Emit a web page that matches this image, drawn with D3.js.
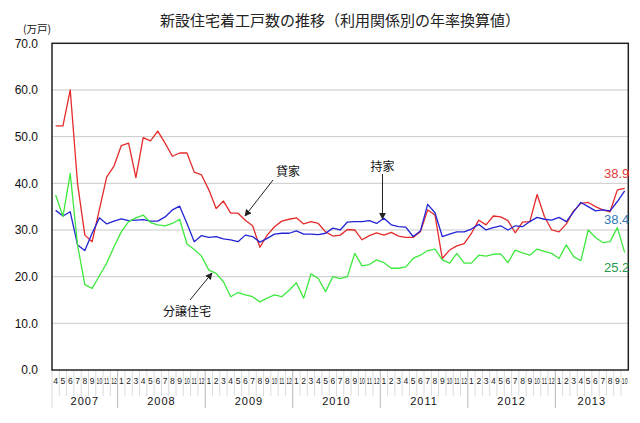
<!DOCTYPE html>
<html>
<head>
<meta charset="utf-8">
<script src="https://cdn.jsdelivr.net/npm/d3@7"></script>
<style>
  body { margin: 0; background: #fff; }
  svg { display: block; }
  text { font-family: "Liberation Sans", Arial, sans-serif; }
  .jp { font-family: "Noto Sans CJK JP", "Noto Sans", sans-serif; }
</style>
</head>
<body>
<svg id="chart" width="640" height="423"></svg>
<script>
// monthly, Apr 2007 .. Oct 2013
const years = [2007, 2008, 2009, 2010, 2011, 2012, 2013]
const firstMonth = 4
const lastMonth = 10

// 貸家 (rental)
const rental = [
  52.3, 52.3, 60.0, 40.0, 28.9, 27.5, 34.4, 41.4, 43.7,
  48.1, 48.6, 41.2, 49.8, 49.1, 51.2, 48.6, 45.8, 46.5, 46.5, 42.4, 41.8,
  38.6, 34.6, 36.2, 33.6, 33.6, 32.1, 30.9, 26.3, 28.9, 30.7, 31.9, 32.3,
  32.6, 31.3, 31.8, 31.4, 29.6, 28.7, 28.9, 30.1, 30.0, 27.9, 28.8, 29.4,
  28.9, 29.5, 28.7, 28.4, 28.4, 29.6, 34.3, 33.2, 23.9, 25.7, 26.6, 27.1,
  29.3, 32.1, 31.1, 33.0, 32.8, 32.0, 29.4, 31.7, 31.8, 37.6, 32.9, 30.0,
  29.6, 31.3, 34.1, 35.7, 35.9, 35.0, 34.3, 33.9, 38.6, 38.9
]
// 持家 (owner-occupied)
const owner = [
  34.2, 33.0, 33.9, 26.8, 25.6, 29.3, 32.6, 31.3, 31.9,
  32.4, 32.0, 32.1, 32.2, 31.9, 31.9, 32.8, 34.3, 35.1, 31.4, 27.5, 28.8,
  28.4, 28.6, 28.1, 27.9, 27.5, 28.9, 28.6, 27.4, 28.2, 29.1, 29.3, 29.3,
  29.8, 29.1, 29.1, 29.0, 29.3, 30.4, 30.0, 31.7, 31.8, 31.8, 32.0, 31.4,
  32.5, 31.1, 30.7, 30.6, 28.6, 29.8, 35.5, 33.7, 28.6, 29.1, 29.6, 29.6,
  30.2, 31.2, 30.0, 30.5, 30.9, 30.0, 30.9, 30.7, 31.8, 32.7, 32.3, 32.1,
  32.7, 31.8, 33.9, 35.9, 35.0, 34.1, 34.3, 34.1, 36.1, 38.4
]
// 分譲住宅 (built for sale)
const forSale = [
  37.5, 32.9, 42.1, 26.8, 18.3, 17.5, 20.2, 22.9, 26.4,
  29.6, 31.8, 32.6, 33.2, 31.6, 31.1, 30.9, 31.4, 32.3, 27.0, 25.8, 24.4,
  21.4, 20.7, 18.9, 15.7, 16.6, 16.1, 15.7, 14.6, 15.4, 16.1, 15.7, 17.1,
  18.7, 15.4, 20.6, 19.6, 16.8, 20.0, 19.6, 20.0, 25.0, 22.3, 22.6, 23.6,
  23.0, 21.8, 21.8, 22.1, 23.9, 24.6, 25.6, 25.9, 23.6, 22.9, 25.0, 22.9,
  22.9, 24.6, 24.4, 24.8, 24.9, 23.0, 25.7, 25.1, 24.6, 25.9, 25.4, 25.0,
  23.9, 26.8, 24.3, 23.4, 30.0, 28.4, 27.3, 27.5, 30.5, 25.2
]
const yTicks = [0, 10, 20, 30, 40, 50, 60, 70]

const categories = []
years.forEach((yr, k) => {
  const m0 = k === 0 ? firstMonth : 1
  const m1 = k === years.length - 1 ? lastMonth : 12
  for (let m = m0; m <= m1; m++) categories.push({ key: yr + '-' + m, year: yr, month: m })
})

// dy: baseline offset of the end-value label from the last point
const series = [
  { name: '貸家', values: rental, color: '#e52b2b', label: '#e23a3a', dy: -10.5 },
  { name: '持家', values: owner, color: '#2424d4', label: '#2e78b8', dy: 33 },
  { name: '分譲住宅', values: forSale, color: '#3fe83f', label: '#1f9a4f', dy: 19.5 }
]

const plotLeft = 52
const plotRight = 628.3
const plotTop = 43.3
const plotBottom = 370

const svg = d3.select('#chart')

const x = d3.scaleBand().domain(categories.map(d => d.key)).range([plotLeft, plotRight])
const cx = key => x(key) + x.bandwidth() / 2
const y = d3.scaleLinear().domain([0, 70]).range([plotBottom, plotTop])

// title
svg.append('text').attr('class', 'jp')
  .attr('x', 340).attr('y', 26)
  .attr('text-anchor', 'middle')
  .style('font-size', '15px')
  .style('fill', '#222')
  .text('新設住宅着工戸数の推移（利用関係別の年率換算値）')

svg.append('text').attr('class', 'jp')
  .attr('x', 23).attr('y', 33)
  .style('font-size', '10.5px')
  .style('fill', '#111')
  .text('(万戸)')

// grid
svg.append('g').selectAll('line')
  .data(yTicks.filter(t => t > 0 && t < 70))
  .enter().append('line')
  .attr('x1', plotLeft).attr('x2', plotRight)
  .attr('y1', d => y(d)).attr('y2', d => y(d))
  .attr('stroke', '#c9c9c9')
  .attr('stroke-width', 1)

// y axis labels
const yAxis = svg.append('g')
  .attr('transform', 'translate(' + plotLeft + ',0)')
  .call(d3.axisLeft(y).tickValues(yTicks).tickFormat(d3.format('.1f')).tickSize(0).tickPadding(14))
yAxis.select('.domain').remove()
yAxis.selectAll('text')
  .style('font-size', '12px')
  .style('font-family', '"Liberation Sans", Arial, sans-serif')
  .style('fill', '#111')

// category separators below the axis
svg.append('g').selectAll('line')
  .data(categories)
  .enter().append('line')
  .attr('x1', d => x(d.key)).attr('x2', d => x(d.key))
  .attr('y1', plotBottom)
  .attr('y2', d => d.month === 1 || d === categories[0] ? 408 : 396)
  .attr('stroke', d => d.month === 1 ? '#b8b8b8' : '#dcdcdc')
  .attr('stroke-width', 1)

// month labels (two-digit ones squeezed to fit the 7px slot)
const xAxis = svg.append('g')
  .attr('transform', 'translate(0,' + plotBottom + ')')
  .call(d3.axisBottom(x).tickSize(0).tickPadding(8).tickFormat(k => k.split('-')[1]))
xAxis.select('.domain').remove()
xAxis.selectAll('text')
  .style('font-size', '8.5px')
  .style('font-family', '"Liberation Sans", Arial, sans-serif')
  .style('fill', '#222')
  .each(function (k) {
    if (k.split('-')[1].length > 1) {
      d3.select(this).attr('transform', 'scale(0.6,1)')
    }
  })

// year labels
svg.append('g').selectAll('text')
  .data(years)
  .enter().append('text')
  .attr('x', yr => {
    const ks = categories.filter(c => c.year === yr)
    return (x(ks[0].key) + x(ks[ks.length - 1].key) + x.bandwidth()) / 2
  })
  .attr('y', 405)
  .attr('text-anchor', 'middle')
  .style('font-size', '11px')
  .style('letter-spacing', '1px')
  .style('fill', '#111')
  .text(yr => yr)

// lines
const line = d3.line()
  .x((v, i) => cx(categories[i].key))
  .y(v => y(v))

svg.append('g').selectAll('path')
  .data(series)
  .enter().append('path')
  .attr('d', s => line(s.values))
  .attr('fill', 'none')
  .attr('stroke', s => s.color)
  .attr('stroke-width', 1.3)
  .attr('stroke-linejoin', 'round')

// plot frame
svg.append('rect')
  .attr('x', plotLeft).attr('y', plotTop)
  .attr('width', plotRight - plotLeft).attr('height', plotBottom - plotTop)
  .attr('fill', 'none')
  .attr('stroke', '#222')
  .attr('stroke-width', 1.5)

// last value labels
svg.append('g').selectAll('text')
  .data(series)
  .enter().append('text')
  .attr('x', plotRight + 1)
  .attr('y', s => y(s.values[s.values.length - 1]) + s.dy)
  .attr('text-anchor', 'end')
  .style('font-size', '13px')
  .style('fill', s => s.label)
  .text(s => s.values[s.values.length - 1].toFixed(1))

// annotations
svg.append('defs').append('marker')
  .attr('id', 'arrow')
  .attr('viewBox', '0 0 10 10')
  .attr('refX', 9).attr('refY', 5)
  .attr('markerWidth', 7).attr('markerHeight', 7)
  .attr('orient', 'auto')
  .append('path')
  .attr('d', 'M0,0L10,5L0,10z')
  .attr('fill', '#222')

const notes = [
  { text: '貸家', tx: 288, ty: 176, from: [273, 180], to: [245, 216] },
  { text: '持家', tx: 382.5, ty: 171, from: [382.5, 174], to: [382.5, 219] },
  { text: '分譲住宅', tx: 187, ty: 316, from: [190, 300], to: [212, 273] }
]

const note = svg.append('g').selectAll('g')
  .data(notes)
  .enter().append('g')

note.append('line')
  .attr('x1', d => d.from[0]).attr('y1', d => d.from[1])
  .attr('x2', d => d.to[0]).attr('y2', d => d.to[1])
  .attr('stroke', '#222')
  .attr('stroke-width', 1)
  .attr('marker-end', 'url(#arrow)')

note.append('text').attr('class', 'jp')
  .attr('x', d => d.tx).attr('y', d => d.ty)
  .attr('text-anchor', 'middle')
  .style('font-size', '12px')
  .style('fill', '#111')
  .text(d => d.text)
</script>
</body>
</html>
